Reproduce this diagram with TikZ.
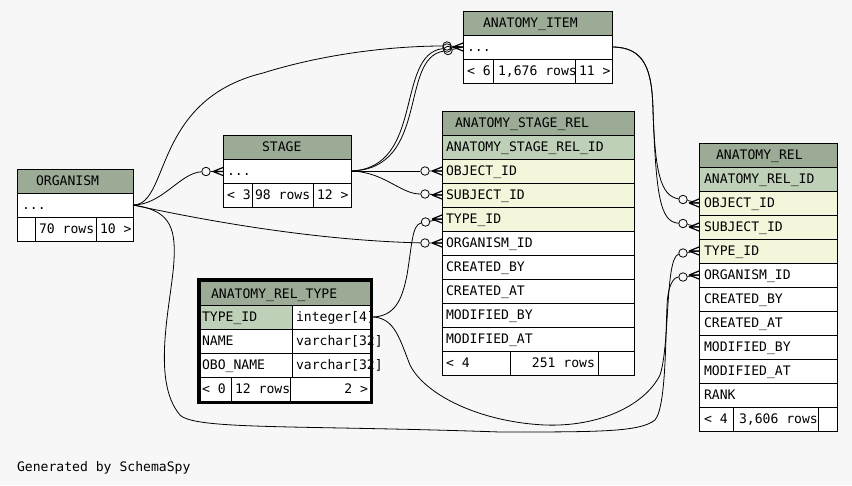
\documentclass[tikz,border=0pt]{standalone}
\usepackage{fontspec}
\newfontfamily\schemafont{DejaVu Sans Mono}
\newcommand\schemasize{\schemafont\fontsize{13.1pt}{15pt}\selectfont}
\definecolor{canvas}{HTML}{F7F7F7}
\definecolor{headfill}{HTML}{9BAB96}
\definecolor{keyfill}{HTML}{BED1B8}
\definecolor{fkfill}{HTML}{F4F6DC}
\begin{document}
\begin{tikzpicture}[x=1pt,y=-1pt,
  tcell/.style={draw=black,line width=0.9pt},
  lbl/.style={anchor=base west,inner sep=0pt,outer sep=0pt,font=\schemasize},
  rlbl/.style={lbl,anchor=base east},
  link/.style={draw=black,line width=0.8pt},
  optional/.style={circle,draw=black,line width=0.8pt,minimum size=8.5pt,inner sep=0pt},
  crowfoot/.pic={\draw[line width=1.2pt] (-10,0) -- (0,-4) (-10,0) -- (0,0) (-10,0) -- (0,4);}
]
\fill[canvas] (0,0) rectangle (852,485);
\useasboundingbox (0,0) rectangle (852,485);

% ---------- ANATOMY_ITEM ----------
\draw[tcell,fill=headfill] (463,11) rectangle (612,35);
\draw[tcell,fill=white] (463,35) rectangle (612,59);
\draw[tcell,fill=white] (463,59) rectangle (612,83);
\node[lbl] (ai-title) at (483,27) {ANATOMY\_ITEM};
\node[lbl] (ai-cols) at (467,51) {...};
\node[lbl] (ai-parents) at (467,75) {< 6};
\node[lbl] (ai-rows) at (498,75) {1,676 rows};
\node[lbl] (ai-children) at (579,75) {11 >};
\draw[tcell] (493,59) -- (493,83) (575,59) -- (575,83);

% ---------- STAGE ----------
\draw[tcell,fill=headfill] (223,135.5) rectangle (351,159.5);
\draw[tcell,fill=white] (223,159.5) rectangle (351,183.5);
\draw[tcell,fill=white] (223,183.5) rectangle (351,207.5);
\node[lbl] (st-title) at (262,151.5) {STAGE};
\node[lbl] (st-cols) at (227,175.5) {...};
\node[lbl] (st-parents) at (227,199.5) {< 3};
\node[lbl] (st-rows) at (255,199.5) {98 rows};
\node[lbl] (st-children) at (317,199.5) {12 >};
\draw[tcell] (252,183.5) -- (252,207.5) (313,183.5) -- (313,207.5);

% ---------- ORGANISM ----------
\draw[tcell,fill=headfill] (17,169) rectangle (133,193);
\draw[tcell,fill=white] (17,193) rectangle (133,217);
\draw[tcell,fill=white] (17,217) rectangle (133,241);
\node[lbl] (org-title) at (36,185) {ORGANISM};
\node[lbl] (org-cols) at (22,209) {...};
\node[lbl] (org-rows) at (39,233) {70 rows};
\node[lbl] (org-children) at (100,233) {10 >};
\draw[tcell] (35,217) -- (35,241) (96,217) -- (96,241);

% ---------- ANATOMY_STAGE_REL ----------
\draw[tcell,fill=headfill] (442,111) rectangle (634,135);
\node[lbl] (asr-title) at (455,127) {ANATOMY\_STAGE\_REL};
\foreach \colname/\shade [count=\i from 0] in {ANATOMY\_STAGE\_REL\_ID/keyfill, OBJECT\_ID/fkfill, SUBJECT\_ID/fkfill, TYPE\_ID/fkfill, ORGANISM\_ID/white, CREATED\_BY/white, CREATED\_AT/white, MODIFIED\_BY/white, MODIFIED\_AT/white}{
  \draw[tcell,fill=\shade] (442,135+24*\i) rectangle (634,159+24*\i);
  \node[lbl] (asr-col-\i) at (446,151+24*\i) {\colname};
}
\draw[tcell,fill=white] (442,351) rectangle (634,375);
\node[lbl] (asr-parents) at (446,367) {< 4};
\node[rlbl] (asr-rows) at (595,367) {251 rows};
\draw[tcell] (510,351) -- (510,375) (598,351) -- (598,375);

% ---------- ANATOMY_REL ----------
\draw[tcell,fill=headfill] (699,143) rectangle (837,167);
\node[lbl] (ar-title) at (716,159) {ANATOMY\_REL};
\foreach \colname/\shade [count=\i from 0] in {ANATOMY\_REL\_ID/keyfill, OBJECT\_ID/fkfill, SUBJECT\_ID/fkfill, TYPE\_ID/fkfill, ORGANISM\_ID/white, CREATED\_BY/white, CREATED\_AT/white, MODIFIED\_BY/white, MODIFIED\_AT/white, RANK/white}{
  \draw[tcell,fill=\shade] (699,167+24*\i) rectangle (837,191+24*\i);
  \node[lbl] (ar-col-\i) at (704,183+24*\i) {\colname};
}
\draw[tcell,fill=white] (699,407) rectangle (837,431);
\node[lbl] (ar-parents) at (704,423) {< 4};
\node[lbl] (ar-rows) at (739,423) {3,606 rows};
\draw[tcell] (733,407) -- (733,431) (818,407) -- (818,431);

% ---------- ANATOMY_REL_TYPE ----------
\draw[tcell,fill=headfill] (200.5,281.5) rectangle (371,305);
\draw[tcell,fill=keyfill] (200.5,305) rectangle (292,329);
\draw[tcell,fill=white] (292,305) rectangle (371,329);
\draw[tcell,fill=white] (200.5,329) rectangle (292,353);
\draw[tcell,fill=white] (292,329) rectangle (371,353);
\draw[tcell,fill=white] (200.5,353) rectangle (292,377);
\draw[tcell,fill=white] (292,353) rectangle (371,377);
\draw[tcell,fill=white] (200.5,377) rectangle (371,401);
\draw[tcell] (231,377) -- (231,401) (290,377) -- (290,401);
\node[lbl] (art-title) at (211,298) {ANATOMY\_REL\_TYPE};
\node[lbl] (art-key) at (202,321) {TYPE\_ID};
\node[lbl] (art-keytype) at (296,321) {integer[4]};
\node[lbl] (art-name) at (202,345) {NAME};
\node[lbl] (art-nametype) at (296,345) {varchar[32]};
\node[lbl] (art-obo) at (202,369) {OBO\_NAME};
\node[lbl] (art-obotype) at (296,369) {varchar[32]};
\node[lbl] (art-parents) at (202,393) {< 0};
\node[lbl] (art-rows) at (235,393) {12 rows};
\node[rlbl] (art-children) at (368,393) {2 >};
\draw[line width=3.3pt] (199,280) rectangle (371.7,402.3);

% ---------- ports ----------
\coordinate (org-out) at (133,205);
\coordinate (st-in) at (223,171.5);
\coordinate (st-out) at (351,171);
\coordinate (ai-in) at (463,47);
\coordinate (ai-out) at (612,47);
\coordinate (asr-obj) at (442,171);
\coordinate (asr-subj) at (442,195);
\coordinate (asr-type) at (442,219);
\coordinate (asr-org) at (442,243);
\coordinate (ar-obj) at (699,203);
\coordinate (ar-subj) at (699,227);
\coordinate (ar-type) at (699,251);
\coordinate (ar-org) at (699,275);
\coordinate (art-out) at (373,317);

% ---------- optional-end circles ----------
\node[optional] (o-st) at (206,171.5) {};
\node[optional] (o-ai1) at (447,46) {};
\node[optional] (o-ai2) at (447,48) {};
\node[optional] (o-ai3) at (448,50.5) {};
\node[optional] (o-asr-obj) at (425,171) {};
\node[optional] (o-asr-subj) at (425,194) {};
\node[optional] (o-asr-type) at (425.5,222) {};
\node[optional] (o-asr-org) at (425,243) {};
\node[optional] (o-ar-obj) at (683,199.5) {};
\node[optional] (o-ar-subj) at (683,223.5) {};
\node[optional] (o-ar-type) at (683,253) {};
\node[optional] (o-ar-org) at (683,277) {};

% ---------- relationships ----------
% ORGANISM -> STAGE
\draw[link] (org-out) .. controls (162,205) and (180,173) .. (o-st);
% ORGANISM -> ANATOMY_ITEM
\draw[link] (org-out) .. controls (170,205) and (152,100) .. (263,73)
  .. controls (330,52) and (400,46) .. (o-ai1);
% ORGANISM -> ANATOMY_STAGE_REL.ORGANISM_ID
\draw[link] (org-out) .. controls (180,215) and (300,240) .. (o-asr-org);
% ORGANISM -> ANATOMY_REL.ORGANISM_ID
\draw[link] (org-out) .. controls (168,210) and (176,225) .. (174,260)
  .. controls (172,300) and (150,380) .. (180,415)
  .. controls (195,430) and (300,425) .. (500,432)
  .. controls (600,432) and (640,432) .. (655,420)
  .. controls (668,405) and (665,310) .. (668,295)
  .. controls (670,282) and (675,277) .. (o-ar-org);
% STAGE -> ANATOMY_ITEM (two references)
\draw[link] (st-out) .. controls (425,168) and (395,55) .. (o-ai2);
\draw[link] (st-out) .. controls (430,169) and (399,58) .. (o-ai3);
% STAGE -> ANATOMY_STAGE_REL.OBJECT_ID / SUBJECT_ID
\draw[link] (st-out) -- (o-asr-obj);
\draw[link] (st-out) .. controls (385,172) and (400,194) .. (o-asr-subj);
% ANATOMY_REL_TYPE -> ANATOMY_STAGE_REL.TYPE_ID
\draw[link] (art-out) .. controls (395,316) and (402,300) .. (407,275)
  .. controls (412,245) and (412,225) .. (o-asr-type);
% ANATOMY_REL_TYPE -> ANATOMY_REL.TYPE_ID
\draw[link] (art-out) .. controls (395,318) and (400,340) .. (410,365)
  .. controls (425,395) and (480,422) .. (545,425)
  .. controls (600,427) and (645,405) .. (660,375)
  .. controls (670,345) and (665,258) .. (o-ar-type);
% ANATOMY_ITEM -> ANATOMY_REL.OBJECT_ID / SUBJECT_ID
\draw[link] (ai-out) .. controls (645,47) and (652,70) .. (653,110)
  .. controls (655,170) and (660,196) .. (o-ar-obj);
\draw[link] (ai-out) .. controls (645,47) and (652,70) .. (653,110)
  .. controls (656,195) and (660,222) .. (o-ar-subj);

% ---------- crow's feet at the child tables ----------
\draw[link] (o-st) -- (st-in);
\draw[link] (o-ai1) -- (ai-in) (o-ai2) -- (ai-in) (o-ai3) -- (ai-in);
\draw[link] (o-asr-obj) -- (asr-obj) (o-asr-subj) -- (asr-subj)
  (o-asr-type) -- (asr-type) (o-asr-org) -- (asr-org);
\draw[link] (o-ar-obj) -- (ar-obj) (o-ar-subj) -- (ar-subj)
  (o-ar-type) -- (ar-type) (o-ar-org) -- (ar-org);
\foreach \p in {st-in,ai-in,asr-obj,asr-subj,asr-type,asr-org,ar-obj,ar-subj,ar-type,ar-org}
  \pic at (\p) {crowfoot};

\node[lbl] (credit) at (17,471) {Generated by SchemaSpy};
\end{tikzpicture}
\end{document}
